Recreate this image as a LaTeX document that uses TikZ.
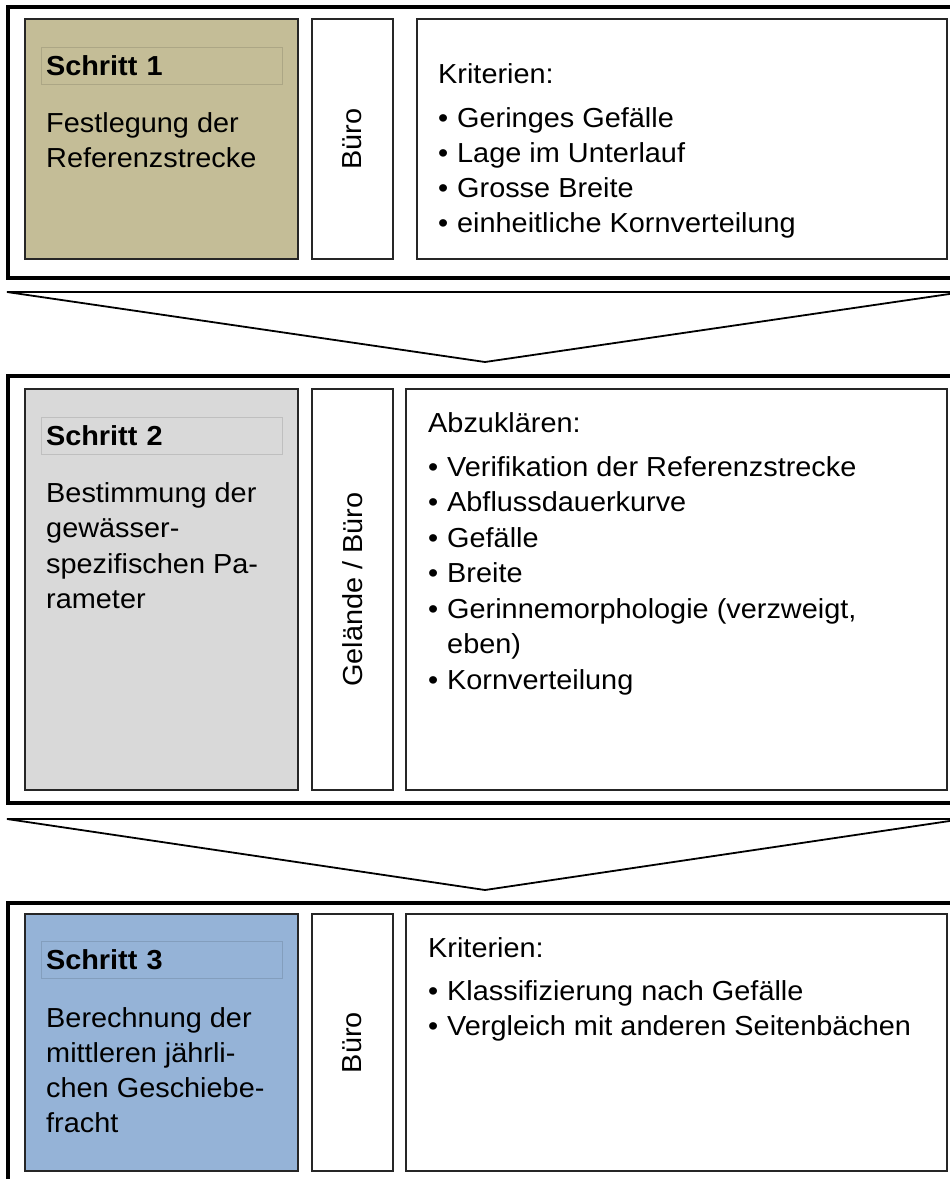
\documentclass[tikz,border=0pt]{standalone}
\usepackage{fontspec}
\setmainfont{Liberation Sans}[FakeStretch=1.05]
\usepackage{tikz}
\usetikzlibrary{positioning, calc}
\definecolor{stepA}{HTML}{C4BD97}
\definecolor{stepB}{HTML}{D9D9D9}
\definecolor{stepC}{HTML}{95B3D7}
\newcommand{\fs}{\fontsize{27.5}{35.5}\selectfont}
\newcommand{\bul}{\makebox[19pt][l]{\textbullet}}

\begin{document}
\begin{tikzpicture}[x=1pt, y=-1pt, font=\fs,
    frame/.style={draw, line width=3.2pt, anchor=north west, inner sep=0, outer sep=0, minimum width=954pt},
    box/.style={draw=black!85, line width=1.3pt, anchor=north west, inner sep=0, outer sep=0},
    lbl/.style={draw=#1!88!black, fill=#1, line width=0.6pt, anchor=north west, outer sep=0,
                inner xsep=5pt, inner ysep=0, text width=231pt, minimum height=37pt, font=\fs\bfseries},
    txt/.style={anchor=base west, inner sep=0},
    chev/.style={draw, line width=1.8pt, line join=miter}]
   \useasboundingbox (0,0) rectangle (950,1179);
   \clip (0,0) rectangle (950,1179);

   % Schritt 1
   \node[frame, minimum height=271pt] (f1) at (8,7) {};
   \node[box, fill=stepA, minimum width=273pt, minimum height=240pt] (s1) at (25,19) {};
   \node[box, minimum width=81pt, minimum height=240pt, right=14pt of s1.north east, anchor=north west] (b1) {};
   \node[box, minimum width=530pt, minimum height=240pt, right=24pt of b1.north east, anchor=north west] (k1) {};
   \node[lbl=stepA] (l1) at (41,47) {Schritt 1};
   \node[txt, anchor=center, rotate=90] (b1t) at (b1.center) {Büro};
   \foreach \t [count=\i from 0] in {Festlegung der, Referenzstrecke}
      \node[txt] (s1-\i) at (46,132+35.5*\i) {\t};
   \node[txt] (k1h) at (438,83) {Kriterien:};
   \foreach \t [count=\i from 0] in {Geringes Gefälle, Lage im Unterlauf, Grosse Breite, einheitliche Kornverteilung}
      \node[txt] (k1-\i) at (438,127+35.3*\i) {\bul\t};

   % Schritt 2
   \node[frame, minimum height=427pt] (f2) at (8,376) {};
   \node[box, fill=stepB, minimum width=273pt, minimum height=401pt] (s2) at (25,389) {};
   \node[box, minimum width=81pt, minimum height=401pt, right=14pt of s2.north east, anchor=north west] (b2) {};
   \node[box, minimum width=541pt, minimum height=401pt, right=13pt of b2.north east, anchor=north west] (k2) {};
   \node[lbl=stepB] (l2) at (41,417) {Schritt 2};
   \node[txt, anchor=center, rotate=90] (b2t) at (b2.center) {Gelände / Büro};
   \foreach \t [count=\i from 0] in {Bestimmung der, gewässer-, spezifischen Pa-, rameter}
      \node[txt] (s2-\i) at (46,502+35.5*\i) {\t};
   \node[txt] (k2h) at (428,432) {Abzuklären:};
   \foreach \t [count=\i from 0] in {\bul Verifikation der Referenzstrecke, \bul Abflussdauerkurve, \bul Gefälle, \bul Breite,
         {\bul Gerinnemorphologie (verzweigt,}, \hspace*{19pt}eben), \bul Kornverteilung}
      \node[txt] (k2-\i) at (428,476+35.5*\i) {\t};

   % Schritt 3
   \node[frame, minimum height=320pt] (f3) at (8,903) {};
   \node[box, fill=stepC, minimum width=273pt, minimum height=257pt] (s3) at (25,914) {};
   \node[box, minimum width=81pt, minimum height=257pt, right=14pt of s3.north east, anchor=north west] (b3) {};
   \node[box, minimum width=541pt, minimum height=257pt, right=13pt of b3.north east, anchor=north west] (k3) {};
   \node[lbl=stepC] (l3) at (41,941) {Schritt 3};
   \node[txt, anchor=center, rotate=90] (b3t) at (b3.center) {Büro};
   \foreach \t [count=\i from 0] in {Berechnung der, mittleren jährli-, chen Geschiebe-, fracht}
      \node[txt] (s3-\i) at (46,1027+35*\i) {\t};
   \node[txt] (k3h) at (428,957) {Kriterien:};
   \foreach \t [count=\i from 0] in {Klassifizierung nach Gefälle, Vergleich mit anderen Seitenbächen}
      \node[txt] (k3-\i) at (428,1000+35.3*\i) {\bul\t};

   % Pfeile zwischen den Schritten
   \draw[chev] ($(f1.south west)+(-1,14)$) -- ($(f1.south east)+(1,14)$) -- ($(f2.north)+(0,-14)$) -- cycle;
   \draw[chev] ($(f2.south west)+(-1,16)$) -- ($(f2.south east)+(1,16)$) -- ($(f3.north)+(0,-13)$) -- cycle;
\end{tikzpicture}
\end{document}
